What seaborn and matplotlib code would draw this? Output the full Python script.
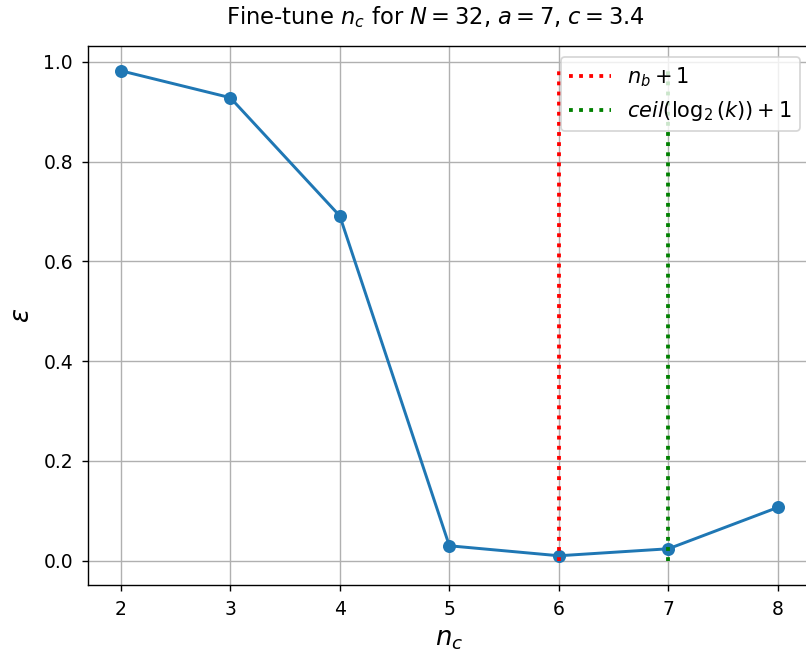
import matplotlib
matplotlib.use("Agg")
import matplotlib.pyplot as plt
import seaborn as sns
import pandas as pd

# Error epsilon for each number of clusters n_c
n_c = [2, 3, 4, 5, 6, 7, 8]
epsilon = [0.982, 0.928, 0.691, 0.030, 0.010, 0.024, 0.107]
n_b_plus_1 = 6
ceil_log2_k_plus_1 = 7

df = pd.DataFrame({"n_c": n_c, "epsilon": epsilon})

fig = plt.figure(figsize=(806 / 125, 651 / 125), dpi=125)
ax = fig.add_axes([0.109, 0.101, 0.897, 0.828])

sns.lineplot(data=df, x="n_c", y="epsilon", marker="o", markersize=7.5,
             markeredgewidth=0, linewidth=1.7, color="tab:blue", ax=ax)

ax.vlines(n_b_plus_1, 0, max(epsilon), colors="red", linestyles=":",
          linewidth=2.2, label=r"$n_b + 1$")
ax.vlines(ceil_log2_k_plus_1, 0, max(epsilon), colors="green", linestyles=":",
          linewidth=2.2, label=r"$ceil(\log_2{(k)}) + 1$")

ax.grid(True)
ax.tick_params(labelsize=10.8, pad=5)
ax.set_title(r"Fine-tune $n_c$ for $N = 32$, $a = 7$, $c = 3.4$",
             fontsize=13, x=0.481, pad=13)
ax.set_xlabel(r"$n_c$", fontsize=15)
ax.set_ylabel(r"$\epsilon$", fontsize=15, labelpad=5)
ax.legend(loc="upper right", fontsize=12)

fig.savefig("out.png", dpi=125)
